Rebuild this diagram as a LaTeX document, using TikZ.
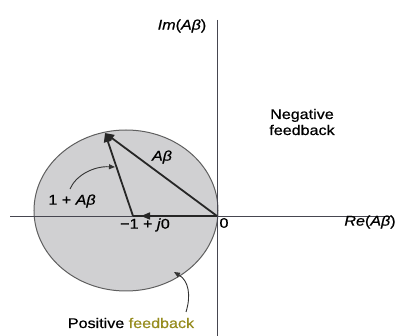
\documentclass[tikz,border=0pt]{standalone}
\usepackage{fontspec}
\setmainfont[FakeStretch=1.15,FakeBold=0.6]{Liberation Sans}
\usetikzlibrary{arrows.meta}
\definecolor{diskfill}{RGB}{208,208,210}
\definecolor{diskedge}{RGB}{95,95,95}
\definecolor{axiscol}{RGB}{70,70,80}
\definecolor{fbyellow}{RGB}{150,140,30}
\tikzset{
  lbl/.style={font=\fontsize{14}{16}\selectfont, inner sep=0pt},
  axisline/.style={draw=axiscol, line width=0.9pt},
  vec/.style={draw=black!85, line width=1.8pt, -{Triangle[length=9pt,width=8pt]}},
  thinarrow/.style={draw=black!80, line width=0.9pt, -{Triangle[length=6pt,width=5pt]}}
}
\begin{document}
\begin{tikzpicture}[x=1pt,y=-1pt]
\useasboundingbox (0,0) rectangle (400,336);
% disk
\filldraw[fill=diskfill, draw=diskedge, line width=1pt] (126,210.5) ellipse [x radius=92, y radius=80.5];
% axes
\coordinate (xl) at (10,216);
\coordinate (xr) at (392,216);
\coordinate (yt) at (217,20);
\coordinate (yb) at (217,336);
\draw[axisline] (xl) -- (xr);
\draw[axisline] (yt) -- (yb);
% points
\coordinate (O) at (217,216);
\coordinate (M) at (133,216);
\coordinate (T) at (105,133);
\coordinate (Mh) at (141,216);
% vectors
\draw[vec] (O) -- (T);
\draw[vec] (M) -- (T);
\draw[draw=black!85, line width=1.6pt] (O) -- (M);
\draw[line width=1.6pt, -{Triangle[length=9pt,width=7pt]}, draw=black!85] (O) -- (Mh);
% labels
\node[lbl] (im) at (182,26) {\textit{Im}(\textit{Aβ})};
\node[lbl] (re) at (370,222) {\textit{Re}(\textit{Aβ})};
\node[lbl] (zero) at (224,223) {0};
\node[lbl] (m1) at (145,225) {−1 + \textit{j}0};
\node[lbl] (ab) at (162,157) {\textit{Aβ}};
\node[lbl] (opab) at (72,201) {1 + \textit{Aβ}};
\node[lbl, align=center] (neg) at (302,122) {Negative\\feedback};
\node[lbl] (pos) at (131,323) {Positive \textcolor{fbyellow}{feedback}};
% curved arrows
\coordinate (c1s) at (70,189);
\coordinate (c1e) at (115,167);
\draw[thinarrow] (c1s) .. controls (76,175) and (94,166) .. (c1e);
\coordinate (c2s) at (186,312);
\coordinate (c2e) at (174,272);
\draw[thinarrow] (c2s) .. controls (191,296) and (189,281) .. (c2e);
\end{tikzpicture}
\end{document}
